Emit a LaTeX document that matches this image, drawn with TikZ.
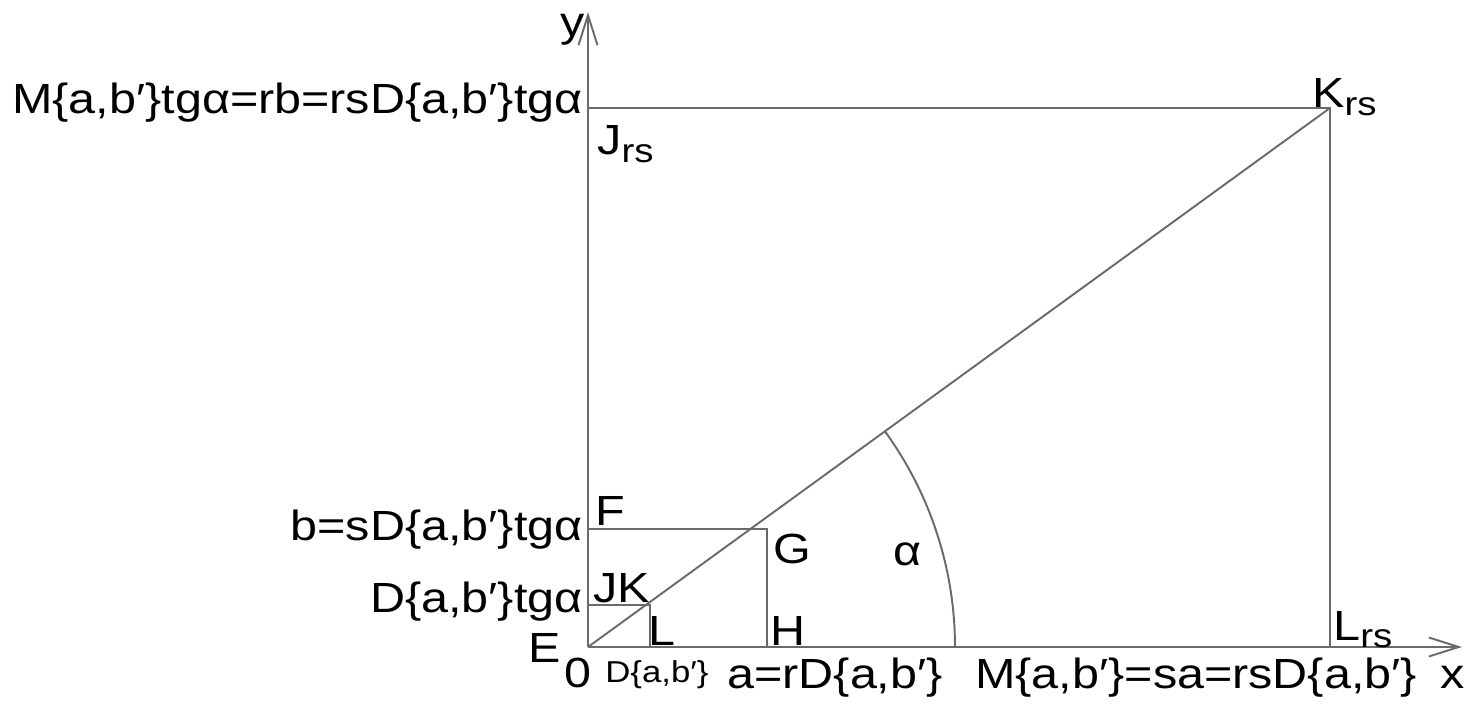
\documentclass[tikz,border=0pt]{standalone}
\usepackage{fontspec}
\newfontfamily\figfont{Liberation Sans}[FakeStretch=1.15]
\usetikzlibrary{arrows.meta, positioning, calc}

\newcommand{\rsub}{{\fontsize{19}{19}\selectfont\raisebox{-4pt}{rs}}}

\begin{document}
\begin{tikzpicture}
% --- cores e estilos ---
\definecolor{linha}{HTML}{6A6A6A}
\tikzset{
  traco/.style={line width=1.1pt, color=linha},
  eixo/.style={traco, -{Straight Barb[length=0.6cm, width=0.38cm, line width=1.1pt]}},
  rotulo/.style={inner sep=0pt, font=\figfont\fontsize{24}{26}\selectfont},
  rotulop/.style={inner sep=0pt, font=\figfont\fontsize{17.2}{19}\selectfont}
}
\useasboundingbox (-11.76,-1.28) rectangle (17.76,12.94);

% pontos principais
\coordinate (O) at (0,0);
\coordinate (xfim) at (17.48,0);
\coordinate (yfim) at (0,12.7);
\coordinate (K) at (14.84,10.78);
\coordinate (J) at (0,10.78);
\coordinate (Lrs) at (14.84,0);
\coordinate (F) at (0,2.36);
\coordinate (G) at (3.58,2.36);
\coordinate (H) at (3.58,0);
\coordinate (JK) at (0,0.84);
\coordinate (Kp) at (1.24,0.84);
\coordinate (L) at (1.24,0);

% eixos
\draw[eixo] (O) -- (xfim);
\draw[eixo] (O) -- (yfim);

% retangulos e diagonal
\draw[traco] (J) -- (K) -- (Lrs);
\draw[traco] (F) -- (G) -- (H);
\draw[traco] (JK) -- (Kp) -- (L);
\draw[traco] (O) -- (K);
\draw[traco] (7.34,0) arc[start angle=0, end angle=36, radius=7.34];

% rotulos nos eixos
\node[rotulo, anchor=base west] (ly) at (-0.56,12.2) {y};
\node[rotulo, anchor=base west] (lx) at (17.04,-0.82) {x};
\node[rotulo, anchor=base west] (l0) at (-0.48,-0.8) {0};
\node[rotulo, anchor=base west] (lE) at (-1.2,-0.3) {E};

% rotulos a esquerda
\node[rotulo, anchor=base east] (lM) at (-0.1,10.66) {M\{a,b′\}tgα=rb=rsD\{a,b′\}tgα};
\node[rotulo, anchor=base east] (lb) at (-0.1,2.14) {b=sD\{a,b′\}tgα};
\node[rotulo, anchor=base east] (lD) at (-0.1,0.7) {D\{a,b′\}tgα};

% rotulos embaixo
\node[rotulop, anchor=base west] (lDab) at (0.34,-0.7) {D\{a,b′\}};
\node[rotulo, anchor=base west] (la) at (2.78,-0.82) {a=rD\{a,b′\}};
\node[rotulo, anchor=base west] (lMs) at (7.74,-0.82) {M\{a,b′\}=sa=rsD\{a,b′\}};

% rotulos dos pontos
\node[rotulo, anchor=base west] (nJ) at (0.18,9.84) {J\rsub};
\node[rotulo, anchor=base west] (nK) at (14.48,10.78) {K\rsub};
\node[rotulo, anchor=base west] (nL) at (14.9,0.14) {L\rsub};
\node[rotulo, anchor=base west] (nF) at (0.14,2.44) {F};
\node[rotulo, anchor=base west] (nG) at (3.7,1.68) {G};
\node[rotulo, anchor=base west] (nJK) at (0.1,0.9) {JK};
\node[rotulo, anchor=base west] (nL2) at (1.2,0.04) {L};
\node[rotulo, anchor=base west] (nH) at (3.64,0.04) {H};
\node[rotulo, anchor=base west] (nal) at (6.1,1.64) {α};
\end{tikzpicture}
\end{document}
